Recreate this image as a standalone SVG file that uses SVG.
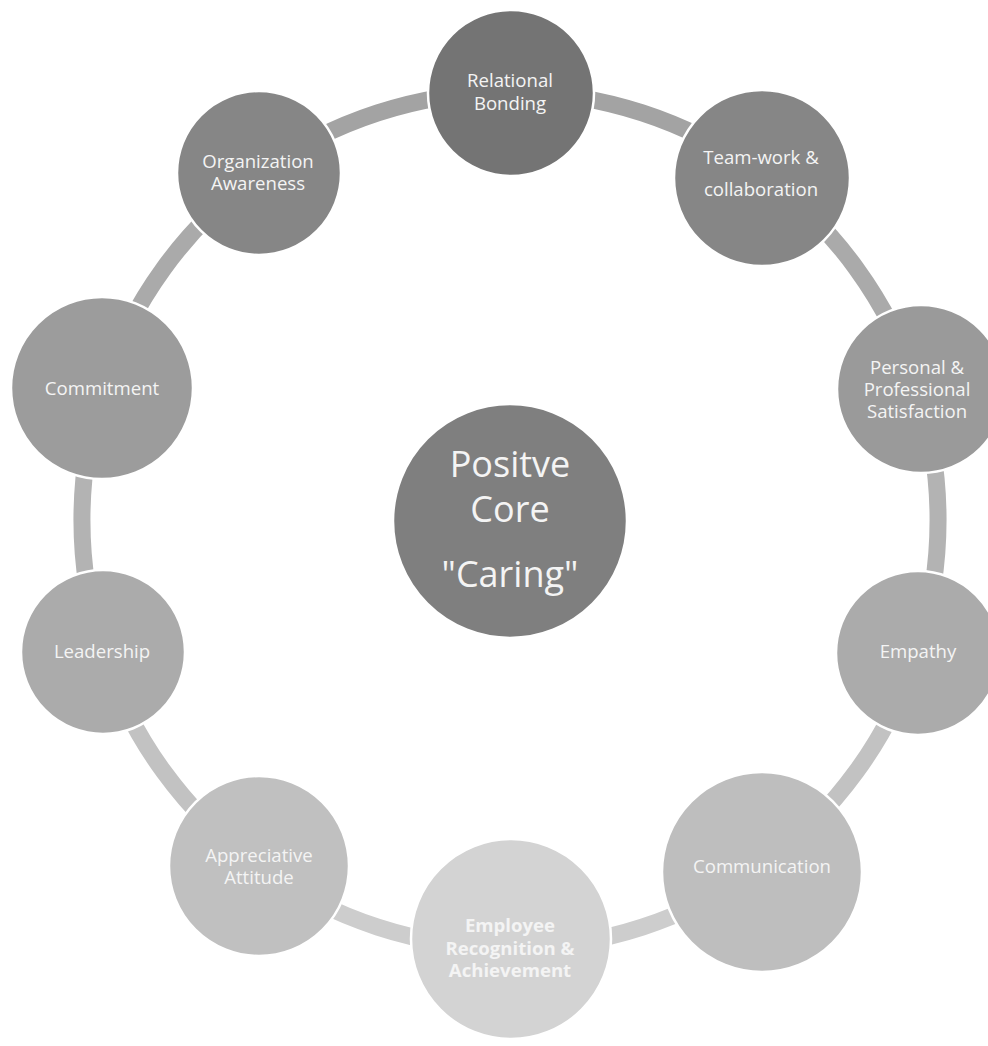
<svg xmlns="http://www.w3.org/2000/svg" width="988" height="1046" viewBox="0 0 988 1046">
  <style>
    .ring { fill: none; stroke-width: 17; }
    .node { stroke: #ffffff; stroke-width: 2.5; }
    .lbl { font-family: "Open Sans", "Liberation Sans", sans-serif; font-size: 18.6px; fill: #f4f4f4; text-anchor: middle; }
    .bold { font-weight: bold; }
    .core { font-family: "Open Sans", "Liberation Sans", sans-serif; font-size: 36px; fill: #f4f4f4; text-anchor: middle; }
  </style>
  <rect width="988" height="1046" fill="#ffffff"/>

  <!-- ring segments between neighbouring nodes (centre 510,520, radius 428) -->
  <g id="connectors">
    <path class="ring" stroke="#a3a3a3" d="M510,92 A428,428 0 0 1 761.6,173.7"/>
    <path class="ring" stroke="#aaaaaa" d="M761.6,173.7 A428,428 0 0 1 917.1,387.7"/>
    <path class="ring" stroke="#b3b3b3" d="M917.1,387.7 A428,428 0 0 1 917.1,652.3"/>
    <path class="ring" stroke="#c2c2c2" d="M917.1,652.3 A428,428 0 0 1 761.6,866.3"/>
    <path class="ring" stroke="#cdcdcd" d="M761.6,866.3 A428,428 0 0 1 510,948"/>
    <path class="ring" stroke="#cdcdcd" d="M510,948 A428,428 0 0 1 258.4,866.3"/>
    <path class="ring" stroke="#c2c2c2" d="M258.4,866.3 A428,428 0 0 1 102.9,652.3"/>
    <path class="ring" stroke="#b3b3b3" d="M102.9,652.3 A428,428 0 0 1 102.9,387.7"/>
    <path class="ring" stroke="#aaaaaa" d="M102.9,387.7 A428,428 0 0 1 258.4,173.7"/>
    <path class="ring" stroke="#a3a3a3" d="M258.4,173.7 A428,428 0 0 1 510,92"/>
  </g>

  <g id="core">
    <circle class="node" cx="510" cy="521" r="117" fill="#7f7f7f"/>
    <text class="core" x="510" y="477">Positve</text>
    <text class="core" x="510" y="522">Core</text>
    <text class="core" x="510" y="587">"Caring"</text>
  </g>

  <g id="relational-bonding">
    <circle class="node" cx="511" cy="93" r="83" fill="#747474"/>
    <text class="lbl" x="510" y="87">Relational</text>
    <text class="lbl" x="510" y="110">Bonding</text>
  </g>

  <g id="team-work">
    <circle class="node" cx="762" cy="178" r="88" fill="#868686"/>
    <text class="lbl" x="761" y="164">Team-work &amp;</text>
    <text class="lbl" x="761" y="196">collaboration</text>
  </g>

  <g id="satisfaction">
    <circle class="node" cx="921" cy="389" r="84" fill="#9a9a9a"/>
    <text class="lbl" x="917" y="374">Personal &amp;</text>
    <text class="lbl" x="917" y="396">Professional</text>
    <text class="lbl" x="917" y="418">Satisfaction</text>
  </g>

  <g id="empathy">
    <circle class="node" cx="918" cy="653" r="82" fill="#ababab"/>
    <text class="lbl" x="918" y="658">Empathy</text>
  </g>

  <g id="communication">
    <circle class="node" cx="762" cy="872" r="100" fill="#bebebe"/>
    <text class="lbl" x="762" y="873">Communication</text>
  </g>

  <g id="employee-recognition">
    <circle class="node" cx="511" cy="939" r="100" fill="#d3d3d3"/>
    <text class="lbl bold" x="510" y="932">Employee</text>
    <text class="lbl bold" x="510" y="955">Recognition &amp;</text>
    <text class="lbl bold" x="510" y="977">Achievement</text>
  </g>

  <g id="appreciative-attitude">
    <circle class="node" cx="259" cy="866" r="90" fill="#c0c0c0"/>
    <text class="lbl" x="259" y="862">Appreciative</text>
    <text class="lbl" x="259" y="884">Attitude</text>
  </g>

  <g id="leadership">
    <circle class="node" cx="103" cy="652" r="82" fill="#ababab"/>
    <text class="lbl" x="102" y="658">Leadership</text>
  </g>

  <g id="commitment">
    <circle class="node" cx="102" cy="388" r="91" fill="#9c9c9c"/>
    <text class="lbl" x="102" y="395">Commitment</text>
  </g>

  <g id="organization-awareness">
    <circle class="node" cx="259" cy="173" r="82" fill="#868686"/>
    <text class="lbl" x="258" y="168">Organization</text>
    <text class="lbl" x="258" y="190">Awareness</text>
  </g>
</svg>
